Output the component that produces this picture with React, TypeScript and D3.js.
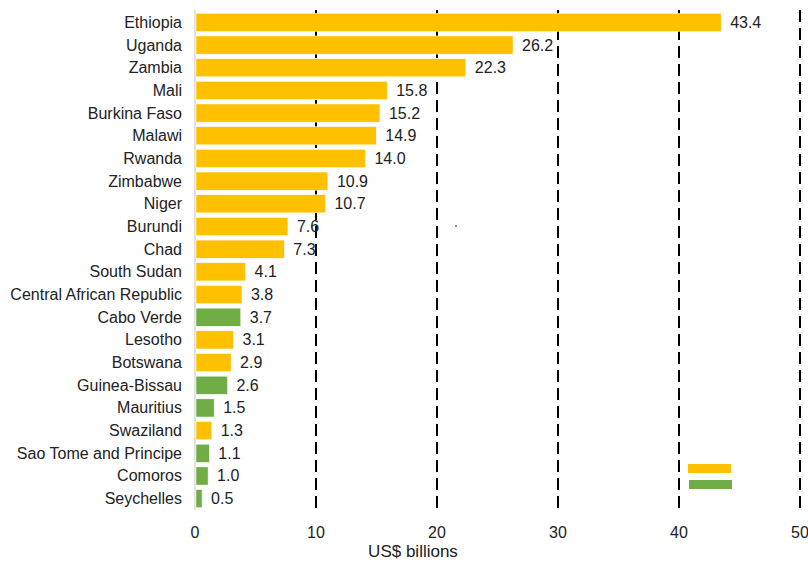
import React from "react";
import * as d3 from "d3";

const countries = ["Ethiopia","Uganda","Zambia","Mali","Burkina Faso","Malawi","Rwanda","Zimbabwe","Niger","Burundi","Chad","South Sudan","Central African Republic","Cabo Verde","Lesotho","Botswana","Guinea-Bissau","Mauritius","Swaziland","Sao Tome and Principe","Comoros","Seychelles"];
const values = [43.4,26.2,22.3,15.8,15.2,14.9,14.0,10.9,10.7,7.6,7.3,4.1,3.8,3.7,3.1,2.9,2.6,1.5,1.3,1.1,1.0,0.5];
const groups = ["LLDC","LLDC","LLDC","LLDC","LLDC","LLDC","LLDC","LLDC","LLDC","LLDC","LLDC","LLDC","LLDC","SIDS","LLDC","LLDC","SIDS","SIDS","LLDC","SIDS","SIDS","SIDS"];
const xTicks = [0,10,20,30,40,50];
const legendGroups = ["LLDC","SIDS"];
const axisTitle = "US$ billions";

const colors: Record<string,string> = { LLDC: "#FFC000", SIDS: "#70AD47" };

export default function App() {
  const W = 808, H = 563;
  const x = d3.scaleLinear().domain([0, 50]).range([195, 800]);
  const y = d3.scaleBand().domain(countries).range([11, 510]).paddingInner(0.2).paddingOuter(0.1);
  const font = "Liberation Sans, Arial, sans-serif";
  return (
    <svg width={W} height={H} style={{ position: "absolute", left: 0, top: 0 }} fontFamily={font}>
      <rect width={W} height={H} fill="#fff" />
      {xTicks.filter(t => t > 0).map(t => (
        <line key={t} x1={x(t)} x2={x(t)} y1={10} y2={510} stroke="#000" strokeWidth={2} strokeDasharray="12,6" />
      ))}
      <line x1={x(0)} x2={x(0)} y1={10} y2={510} stroke="#d9d9d9" strokeWidth={1.5} />
      {countries.map((c, i) => (
        <g key={c}>
          <rect x={x(0) + 1} y={y(c)!} width={x(values[i]) - x(0)} height={y.bandwidth()} fill={colors[groups[i]]} stroke="#fff" strokeWidth={0.5} />
          <text x={182} y={y(c)! + y.bandwidth() / 2} textAnchor="end" dominantBaseline="central" fontSize={16} fill="#222">{c}</text>
          <text x={x(values[i]) + 10} y={y(c)! + y.bandwidth() / 2} textAnchor="start" dominantBaseline="central" fontSize={16} fill="#222">{values[i].toFixed(1)}</text>
        </g>
      ))}
      {xTicks.map(t => (
        <text key={t} x={x(t)} y={532} textAnchor="middle" dominantBaseline="central" fontSize={16} fill="#222">{t}</text>
      ))}
      <text x={413} y={551} textAnchor="middle" dominantBaseline="central" fontSize={17} fill="#222">{axisTitle}</text>
      {legendGroups.map((g, i) => (
        <rect key={g} x={688 + i} y={464 + i * 16} width={43} height={9} fill={colors[g]} />
      ))}
      <rect x={455} y={225} width={2} height={2} fill="#888" />
    </svg>
  );
}
